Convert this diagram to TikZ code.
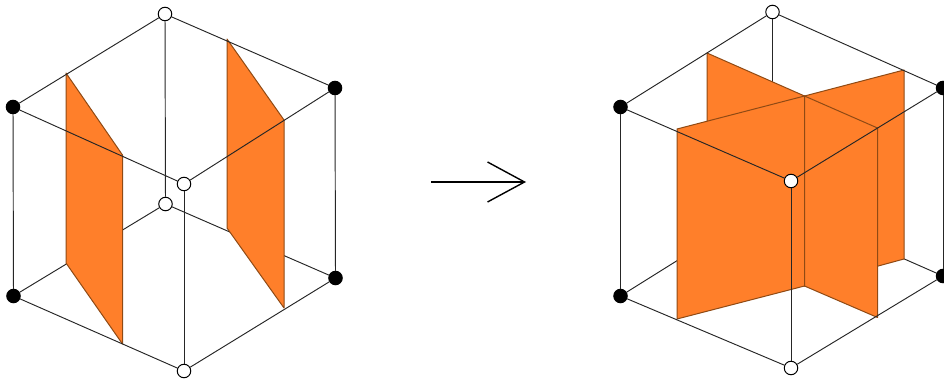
\documentclass[tikz,border=0pt]{standalone}
\usepackage{amsmath,amssymb}
\usepackage{tikz}
\usetikzlibrary{arrows.meta, positioning}
\definecolor{wallfill}{HTML}{FF7F2A}
\definecolor{walledge}{HTML}{8F4A14}
\tikzset{
  blackvtx/.style={
    draw,
    circle,
    fill=black,
    line width=1pt,
    inner sep=0pt,
    minimum size=13.5pt
  },
  whitevtx/.style={
    blackvtx,
    fill=white
  },
  edge/.style={
    line width=0.95pt,
    black!85
  },
  wall/.style={
    fill=wallfill,
    draw=walledge,
    line width=1pt,
    line join=round
  },
  bigarrow/.style={
    -{Straight Barb[length=37pt,width=40pt]},
    line width=1.4pt
  }
}

\begin{document}
\begin{tikzpicture}[x=1pt,y=-1pt]
  \useasboundingbox (0,0) rectangle (944,379);

  % Cube de gauche, sommets arriere
  \node[whitevtx] (ltop) at (165,14) {};
  \node[blackvtx] (lul) at (13,107) {};
  \node[blackvtx] (lur) at (335,88) {};
  \node[blackvtx] (ldl) at (13.5,296) {};
  \node[blackvtx] (ldr) at (335.5,278) {};
  \node[whitevtx] (lback) at (165.5,204) {};

  % Aretes arriere
  \draw[edge] (ltop) -- (lback);
  \draw[edge] (lback) -- (ldl);
  \draw[edge] (lback) -- (ldr);
  \draw[edge] (lul) -- (ldl);
  \draw[edge] (lur) -- (ldr);

  % Plans
  \draw[wall] (66,73) -- (122.5,155) -- (122.5,344) -- (66,263) -- cycle;
  \draw[wall] (227,39) -- (284,120) -- (284,308) -- (227,228) -- cycle;

  % Sommets et aretes avant
  \node[whitevtx] (lfront) at (184,184) {};
  \node[whitevtx] (lbot) at (184,371) {};
  \draw[edge] (ltop) -- (lul);
  \draw[edge] (ltop) -- (lur);
  \draw[edge] (lul) -- (lfront);
  \draw[edge] (lur) -- (lfront);
  \draw[edge] (lfront) -- (lbot);
  \draw[edge] (ldl) -- (lbot);
  \draw[edge] (ldr) -- (lbot);

  % Fleche
  \coordinate (arrowin) at (431,182);
  \coordinate (arrowout) at (526,182);
  \draw[bigarrow] (arrowin) -- (arrowout);

  % Cube de droite, sommets arriere
  \node[whitevtx] (rtop) at (772.5,12) {};
  \node[blackvtx] (rul) at (620.5,107) {};
  \node[blackvtx] (rur) at (943,88) {};
  \node[blackvtx] (rdl) at (620.5,296) {};
  \node[blackvtx] (rdr) at (943,276) {};
  \coordinate (rback) at (772.5,201);

  % Aretes arriere
  \draw[edge] (rtop) -- (rback);
  \draw[edge] (rback) -- (rdl);
  \draw[edge] (rback) -- (rdr);
  \draw[edge] (rul) -- (rdl);
  \draw[edge] (rur) -- (rdr);

  % Plans en croix : moities arriere puis moities avant
  \draw[wall] (707,53) -- (804.5,96) -- (804.5,286) -- (707,243) -- cycle;
  \draw[wall] (804.5,96) -- (904,70) -- (904,259) -- (804.5,286) -- cycle;
  \draw[wall] (677,129) -- (804.5,96) -- (804.5,286) -- (677,319) -- cycle;
  \draw[wall] (804.5,96) -- (877.5,128) -- (877.5,317.5) -- (804.5,286) -- cycle;

  % Sommets et aretes avant
  \node[whitevtx] (rfront) at (791,181) {};
  \node[whitevtx] (rbot) at (791,368) {};
  \draw[edge] (rtop) -- (rul);
  \draw[edge] (rtop) -- (rur);
  \draw[edge] (rul) -- (rfront);
  \draw[edge] (rur) -- (rfront);
  \draw[edge] (rfront) -- (rbot);
  \draw[edge] (rdl) -- (rbot);
  \draw[edge] (rdr) -- (rbot);
\end{tikzpicture}
\end{document}
